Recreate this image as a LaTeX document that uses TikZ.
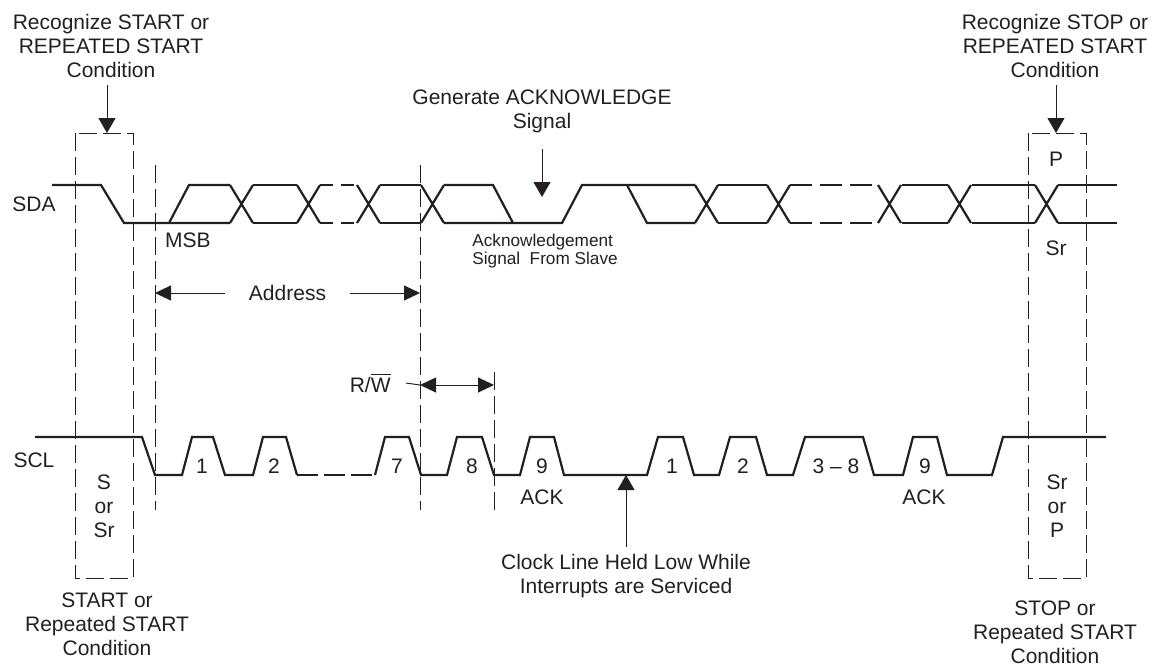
\documentclass[tikz,border=0pt]{standalone}
\usepackage{fontspec}
\setmainfont{Liberation Sans}
\usepackage{tikz}
\usetikzlibrary{arrows.meta}
\definecolor{ink}{HTML}{231F20}
\tikzstyle{txt} = [font=\fontsize{10.5}{12}\selectfont, align=center, text=ink, inner sep=3.5pt]
\tikzstyle{small} = [font=\fontsize{8.6}{9}\selectfont, align=left, text=ink, inner sep=0pt]
\tikzstyle{wave} = [draw=ink, line width=1.1pt]
\tikzstyle{guide} = [draw=ink, line width=0.5pt, dash pattern=on 9pt off 3pt]
\tikzstyle{arrow} = [draw=ink, line width=0.5pt, -{Triangle[length=7.5pt,width=8.5pt]}]
\tikzstyle{dim} = [draw=ink, line width=0.5pt, {Triangle[length=8pt,width=7.5pt]}-{Triangle[length=8pt,width=7.5pt]}]
\begin{document}
\begin{tikzpicture}[x=0.5pt, y=-0.5pt]
        \useasboundingbox (0,0) rectangle (1153,666);

        % labels
        \node [txt] (sda) at (34,204) {SDA};
        \node [txt] (scl) at (34,460) {SCL};
        \node [txt] (recS) at (111,46) {Recognize START or\\REPEATED START\\Condition};
        \node [txt] (recP) at (1055,46) {Recognize STOP or\\REPEATED START\\Condition};
        \node [txt] (genAck) at (542,111) {Generate ACKNOWLEDGE\\Signal};
        \node [txt] (startTxt) at (107,624) {START or\\Repeated START\\Condition};
        \node [txt] (stopTxt) at (1055,632) {STOP or\\Repeated START\\Condition};
        \node [txt] (held) at (626,576) {Clock Line Held Low While\\Interrupts are Serviced};
        \node [small, anchor=west] (ackSlave) at (472,251) {Acknowledgement\\Signal\ \ From Slave};
        \node [txt] (msb) at (188,240) {MSB};
        \node [txt] (pTxt) at (1056,159) {P};
        \node [txt] (srTxt) at (1056,248) {Sr};
        \node [txt] (sBox) at (104,506) {S\\or\\Sr};
        \node [txt] (pBox) at (1057,506) {Sr\\or\\P};
        \node [txt, anchor=east] (rw) at (398,383) {R/$\overline{\hbox{W}}$};
        \foreach \x/\b [count=\i] in {202/1, 274/2, 397/7, 472/8, 542/9, 672/1, 743/2, 836/3 -- 8, 925/9}
            \node [txt] (bit\i) at (\x,466) {\b};
        \node [txt] (ack1) at (542,497) {ACK};
        \node [txt] (ack2) at (924,497) {ACK};

        % guides
        \draw [guide] (75,133) rectangle (133,578);
        \draw [guide] (1028,133) rectangle (1086,578);
        \draw [guide] (155,165) -- (155,510);
        \draw [guide] (420,165) -- (420,510);
        \draw [guide] (494,372) -- (494,510);

        % SDA
        \draw [wave] (52,185) -- (101,185) -- (124,223) -- (230,223);
        \draw [wave] (169,223) -- (189,185) -- (230,185);
        \foreach \a in {230,297,357,421,695,767,878,948,1035}
            \draw [wave] (\a,185) -- +(23,38) (\a,223) -- +(23,-38);
        \foreach \a/\b in {253/297, 380/421, 718/767, 902/948, 972/1035, 1058/1117}
            \draw [wave] (\a,185) -- (\b,185) (\a,223) -- (\b,223);
        \draw [wave, dash pattern=on 6.5pt off 4pt] (320,185) -- (357,185) (320,223) -- (357,223);
        \draw [wave, dash pattern=on 11pt off 4pt] (790,185) -- (878,185) (790,223) -- (878,223);
        \draw [wave] (444,185) -- (493,185) -- (513,223);
        \draw [wave] (444,223) -- (562,223) -- (582,185) -- (695,185);
        \draw [wave] (627,185) -- (647,223) -- (695,223);

        % SCL
        \draw [wave] (35,437) -- (142,437) -- (155,475) -- (182,475) -- (192,437) -- (213,437) -- (225,475)
            -- (253,475) -- (263,437) -- (286,437) -- (297,475);
        \draw [wave, dash pattern=on 10.5pt off 3pt] (297,475) -- (375,475);
        \draw [wave] (375,475) -- (385,437) -- (409,437) -- (421,475) -- (447,475) -- (457,437) -- (482,437)
            -- (494,475) -- (520,475) -- (530,437) -- (554,437) -- (564,475) -- (647,475) -- (658,437)
            -- (683,437) -- (694,475) -- (719,475) -- (730,437) -- (756,437) -- (767,475) -- (793,475)
            -- (805,437) -- (863,437) -- (874,475) -- (903,475) -- (913,437) -- (937,437) -- (947,475)
            -- (992,475) -- (1003,437) -- (1106,437);

        % arrows
        \coordinate (sTop) at (107,133);
        \coordinate (pTop) at (1056,133);
        \coordinate (ackTip) at (542,197);
        \coordinate (sclLow) at (626,475);
        \coordinate (adrL) at (155,293);
        \coordinate (adrR) at (420,293);
        \coordinate (rwL) at (420,385);
        \coordinate (rwR) at (494,385);
        \draw [arrow] (recS.south -| sTop) -- (sTop);
        \draw [arrow] (recP.south -| pTop) -- (pTop);
        \draw [arrow, shorten <=4.5pt] (genAck.south) -- (ackTip);
        \draw [arrow] (held.north) -- (sclLow);
        \draw [dim] (adrL) -- node [txt, fill=white, inner xsep=12pt] (adr) {Address} (adrR);
        \draw [dim] (rwL) -- (rwR);
        \draw [draw=ink, line width=0.5pt] ([xshift=4pt]rw.east) -- (rwL);
    \end{tikzpicture}
\end{document}
